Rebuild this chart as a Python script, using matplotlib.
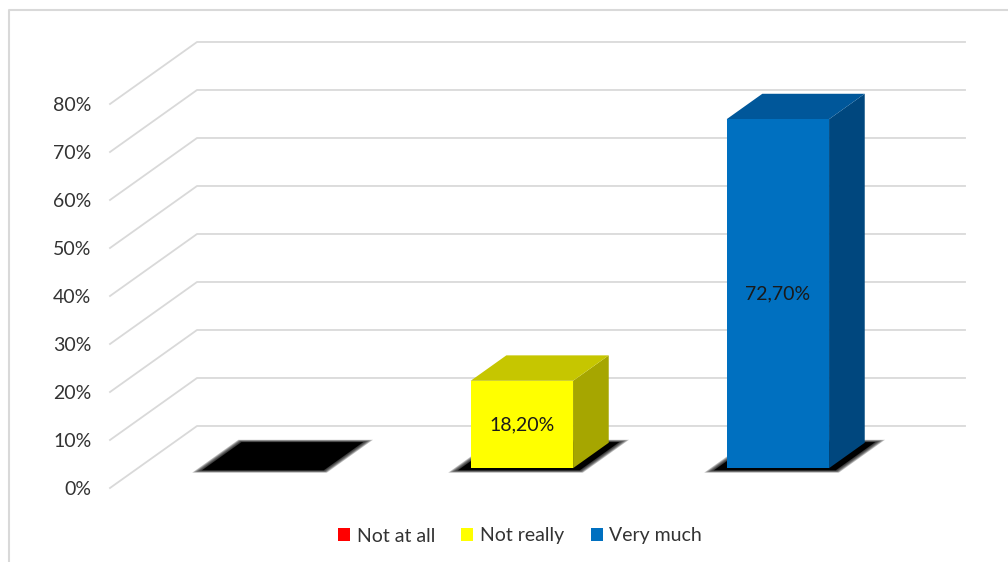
import matplotlib
matplotlib.use("Agg")
import matplotlib.pyplot as plt
from matplotlib.patches import Polygon, Patch
from matplotlib.lines import Line2D

plt.rcParams["font.family"] = ["Lato", "DejaVu Sans"]

categories = ["Not at all", "Not really", "Very much"]
values = [0.0, 18.2, 72.7]
value_labels = ["0,00%", "18,20%", "72,70%"]
tick_values = [0, 10, 20, 30, 40, 50, 60, 70, 80]
tick_labels = ["0%", "10%", "20%", "30%", "40%", "50%", "60%", "70%", "80%"]

FRONT_COLORS = ["#FF0000", "#FFFF00", "#0070C0"]
TOP_COLORS = ["#C00000", "#C6C600", "#00579A"]
SIDE_COLORS = ["#A00000", "#A6A600", "#00477E"]
GRID = "#D9D9D9"
TEXT = "#333333"

# oblique projection: full floor depth in data units
DEPTH_X = 0.34
DEPTH_Y = 12.92
BAR_FRONT, BAR_BACK = 0.32, 0.73
HALF_W = 0.2


def proj(x, y, d):
    return (x + d * DEPTH_X, y + d * DEPTH_Y)


fig = plt.figure(figsize=(10.08, 5.62), dpi=100)
ax = fig.add_axes([110 / 1008, 74 / 562, 768 / 1008, 384 / 562])
ax.set_xlim(-0.5, len(categories) - 0.5)
ax.set_ylim(0, 80)
for s in ax.spines.values():
    s.set_visible(False)
ax.set_xticks([])
ax.set_yticks(tick_values)
ax.set_yticklabels(tick_labels)
ax.tick_params(axis="y", length=0, pad=13.5, labelsize=14, labelcolor=TEXT)

# walls: diagonal on the side, horizontal on the back
x0, x1 = ax.get_xlim()
for v in tick_values:
    bx, by = proj(x0, v, 1.0)
    ex, ey = proj(x1, v, 1.0)
    ax.plot([x0, bx, ex], [v, by, ey], color=GRID, lw=1.3, clip_on=False, zorder=1)

# soft shadows under the columns
for i, v in enumerate(values):
    for k in range(6):
        grow = 0.005 * (5 - k)
        hw = 0.238 + grow
        dA, dB = 0.285 - grow * 1.5, 0.74 + grow * 1.5
        pts = [proj(i - hw, 0, dA), proj(i + hw, 0, dA),
               proj(i + hw, 0, dB), proj(i - hw, 0, dB)]
        ax.add_patch(Polygon(pts, closed=True, facecolor="black", edgecolor="none",
                             alpha=0.25 if k < 5 else 1.0, clip_on=False, zorder=2))

# columns
for i, v in enumerate(values):
    if v <= 0:
        continue
    l, r = i - HALF_W, i + HALF_W
    side = [proj(r, 0, BAR_FRONT), proj(r, v, BAR_FRONT), proj(r, v, BAR_BACK), proj(r, 0, BAR_BACK)]
    top = [proj(l, v, BAR_FRONT), proj(r, v, BAR_FRONT), proj(r, v, BAR_BACK), proj(l, v, BAR_BACK)]
    front = [proj(l, 0, BAR_FRONT), proj(r, 0, BAR_FRONT), proj(r, v, BAR_FRONT), proj(l, v, BAR_FRONT)]
    ax.add_patch(Polygon(side, closed=True, facecolor=SIDE_COLORS[i], edgecolor="none", clip_on=False, zorder=3))
    ax.add_patch(Polygon(top, closed=True, facecolor=TOP_COLORS[i], edgecolor="none", clip_on=False, zorder=3))
    ax.add_patch(Polygon(front, closed=True, facecolor=FRONT_COLORS[i], edgecolor="none", clip_on=False, zorder=4))
    lx, ly = proj(i, v / 2, BAR_FRONT)
    ax.text(lx, ly, value_labels[i], ha="center", va="center", fontsize=14, color="#1a1a1a", zorder=5)

handles = [Patch(facecolor=c, edgecolor="none", label=n) for c, n in zip(FRONT_COLORS, categories)]
fig.legend(handles=handles, loc="center", bbox_to_anchor=(520 / 1008, 1 - 536 / 562), ncol=3,
           frameon=False, fontsize=14, handlelength=0.62, handleheight=0.62,
           handletextpad=0.35, columnspacing=1.35, labelcolor=TEXT)

# chart area border (left and top edges visible)
fig.add_artist(Line2D([9 / 1008, 9 / 1008, 1.0], [0.0, 1 - 10 / 562, 1 - 10 / 562],
                      transform=fig.transFigure, color=GRID, lw=1.5))

fig.savefig("out.png", dpi=100)
